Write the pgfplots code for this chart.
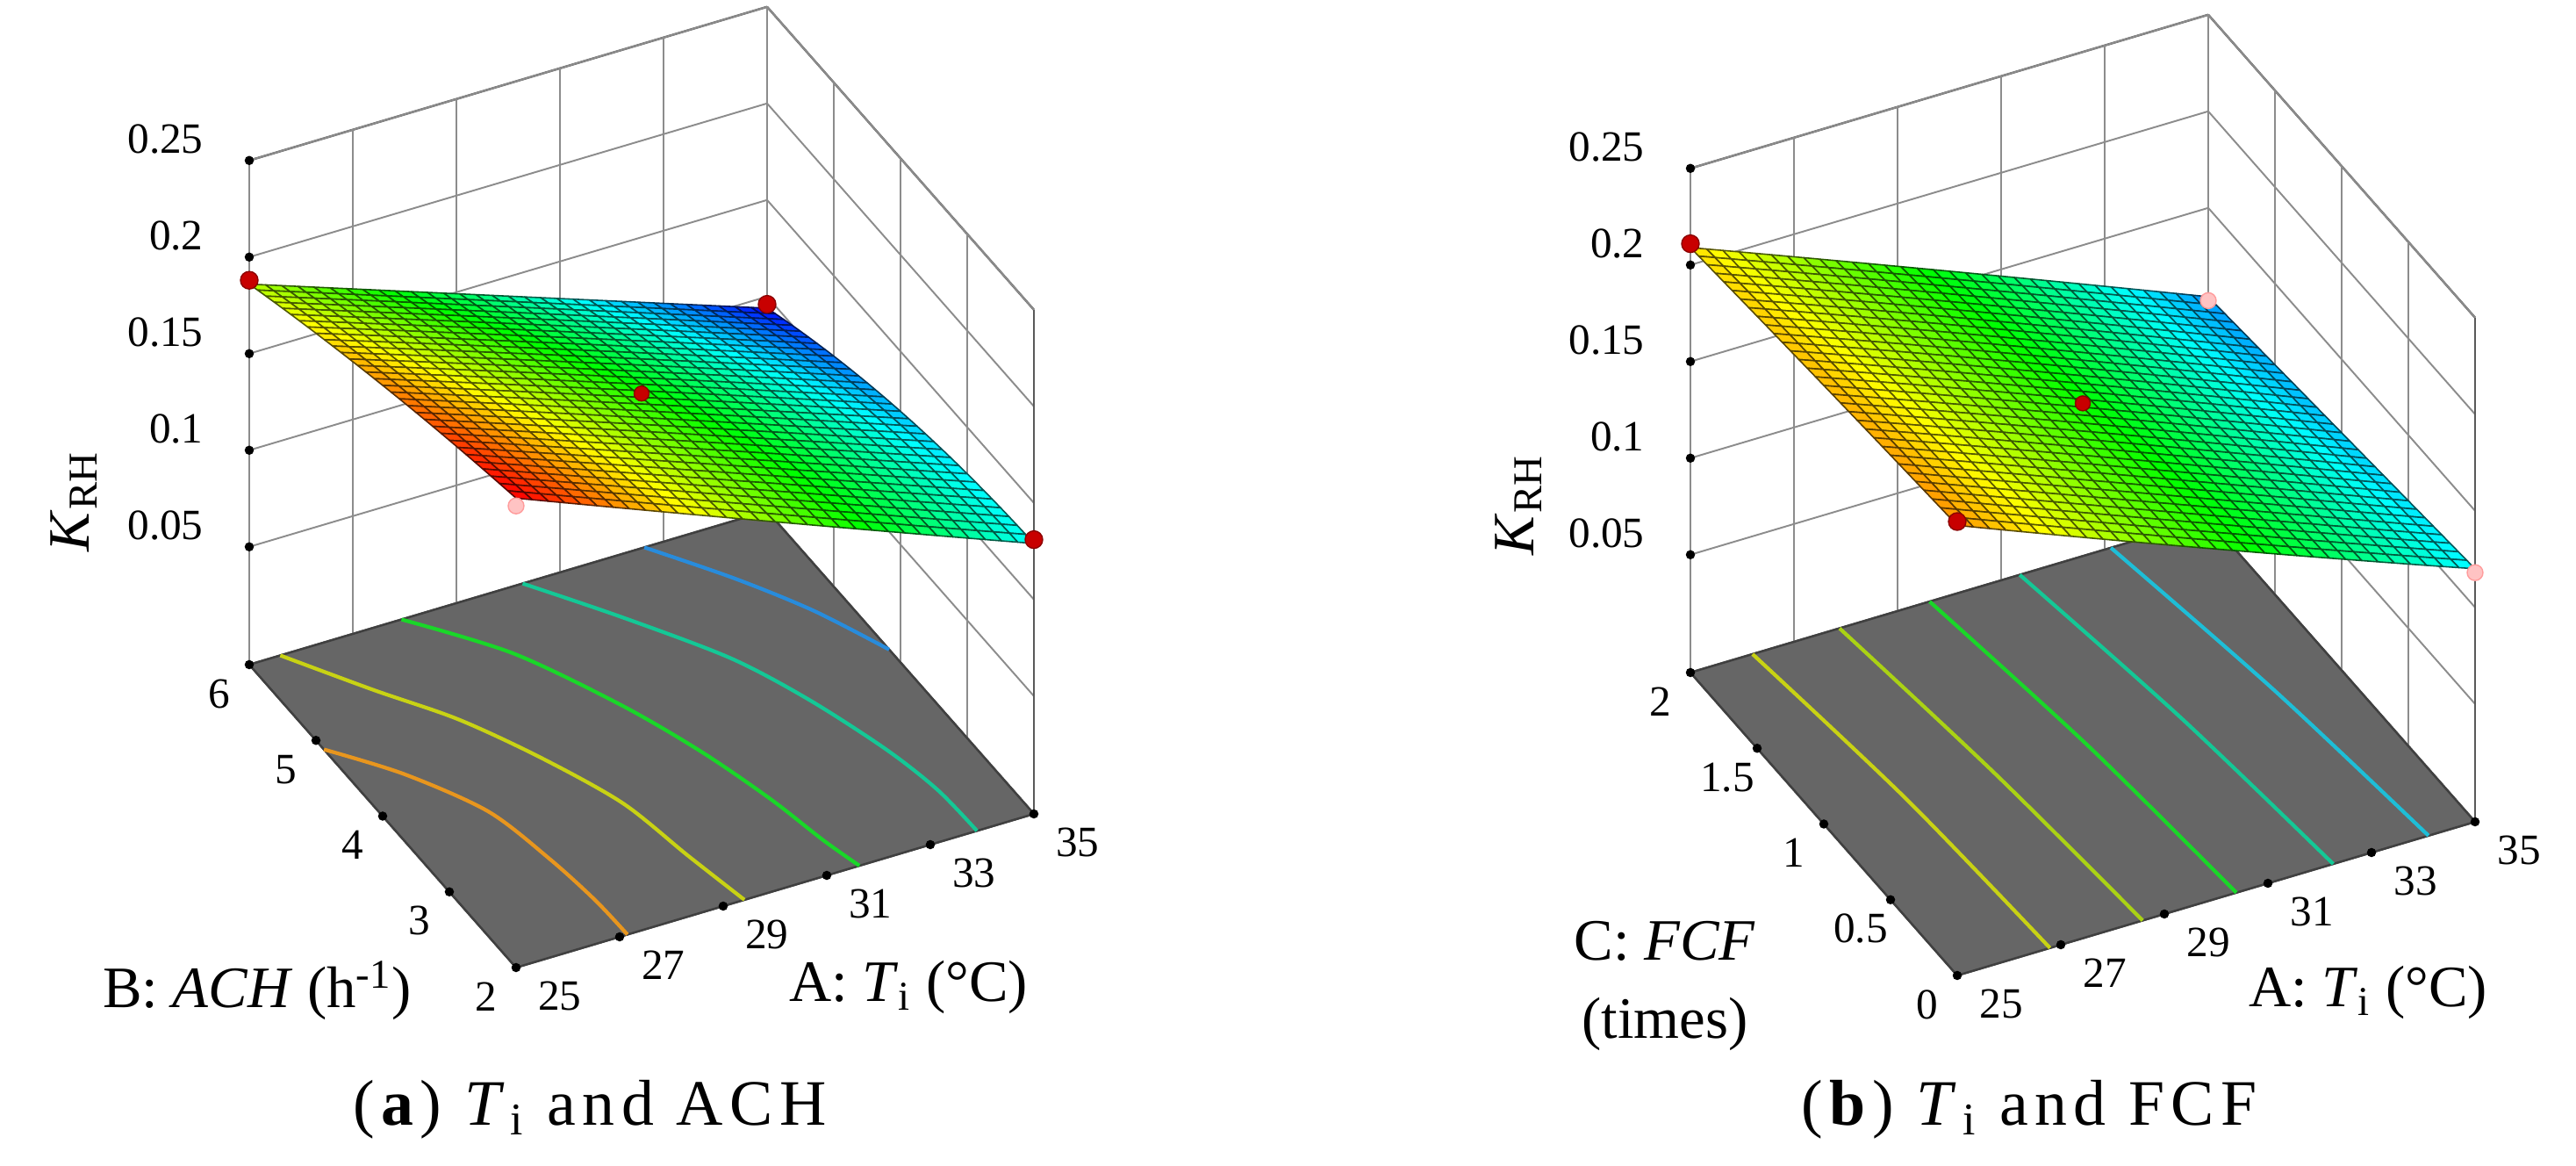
\documentclass[border=0pt]{standalone}
\usepackage{fontspec}
\setmainfont{Liberation Serif}
\newfontfamily\capfont[LetterSpace=10]{Liberation Serif}
\usepackage{pgfplots}
\pgfplotsset{compat=1.18}
\usepgfplotslibrary{patchplots}
\usetikzlibrary{calc}
\definecolor{floorgray}{RGB}{102,102,102}
\definecolor{cOrange}{RGB}{232,150,30}
\definecolor{cYellow}{RGB}{200,210,20}
\definecolor{cYG}{RGB}{170,210,20}
\definecolor{cGreen}{RGB}{25,215,40}
\definecolor{cTeal}{RGB}{20,200,150}
\definecolor{cCyan}{RGB}{30,190,215}
\definecolor{cBlue}{RGB}{40,140,220}
\definecolor{ptred}{RGB}{200,0,0}
\definecolor{ptpink}{RGB}{255,195,195}
\pgfplotsset{
  rsaxis/.style={
    x={(0.590cm,0.175cm)},
    z={(0cm,22cm)},
    xmin=25, xmax=35, zmin=-0.011, zmax=0.25,
    enlargelimits=false,
    xtick={25,27,29,31,33,35},
    ztick={0.05,0.1,0.15,0.2,0.25},
    zticklabels={0.05,0.1,0.15,0.2,0.25},
    /pgf/number format/assume math mode=true,
    grid=major,
    grid style={black!45, line width=0.55pt},
    axis line style={black!65, line width=0.7pt},
    major tick length=0pt,
    ticklabel style={font=\fontsize{14}{16}\selectfont},
    xticklabel style={anchor=center, xshift=0.5cm, yshift=-0.32cm},
    yticklabel style={anchor=center, xshift=-0.34cm, yshift=-0.33cm},
    zticklabel style={anchor=east, xshift=-0.40cm, yshift=0.24cm},
    colormap={de}{rgb255=(0,0,255) rgb255=(0,255,255) rgb255=(0,255,0) rgb255=(255,255,0) rgb255=(255,0,0)},
    clip=false,
  },
  surfstyle/.style={
    patch, patch type=biquadratic, patch refines=5,
    shader=faceted, faceted color=mapped color!35!black,
    line width=0.45pt, point meta=z,
  },
  tickdot/.style={only marks, mark=*, mark size=0.045cm, black},
  redpt/.style={only marks, mark=*, mark size=0.1cm,
    mark options={fill=ptred, draw=ptred!70!black, line width=0.4pt}},
  pinkpt/.style={only marks, mark=*, mark size=0.09cm,
    mark options={fill=ptpink, draw=ptpink!80!red, line width=0.4pt}},
  contour/.style={smooth, line width=1.2pt},
}
\begin{document}
\begin{tikzpicture}
% ---------------- panel (a) ----------------
\begin{axis}[rsaxis, name=A1, at={(0,0)}, anchor=south west,
  y={(-0.76cm,0.8625cm)}, ymin=2, ymax=6, ytick={2,3,4,5,6},
  point meta min=0.094, point meta max=0.230]
\coordinate (c1) at (axis cs:30,4,-0.011);
\addplot3[tickdot] coordinates {(25,6,0.05) (25,6,0.1) (25,6,0.15) (25,6,0.2) (25,6,0.25)};
\addplot3[fill=floorgray, draw=black!75, line width=0.7pt] coordinates {
  (25,2,-0.011) (35,2,-0.011) (35,6,-0.011) (25,6,-0.011) (25,2,-0.011)};
\addplot3[tickdot] coordinates {
  (25,2,-0.011) (27,2,-0.011) (29,2,-0.011) (31,2,-0.011) (33,2,-0.011) (35,2,-0.011)
  (25,3,-0.011) (25,4,-0.011) (25,5,-0.011) (25,6,-0.011)};
\addplot3[contour, cOrange] coordinates {
  (25,4.88,-0.011) (25.9,4.37,-0.011) (26.68,3.72,-0.011) (26.98,3.03,-0.011) (27.12,2.46,-0.011) (27.15,2,-0.011)};
\addplot3[contour, cYellow] coordinates {
  (25.6,6,-0.011) (26.56,5.35,-0.011) (27.46,4.78,-0.011) (28.21,4.12,-0.011) (28.85,3.39,-0.011) (29.14,2.64,-0.011) (29.41,2,-0.011)};
\addplot3[contour, cGreen] coordinates {
  (27.94,6,-0.011) (29.19,5.30,-0.011) (30.15,4.42,-0.011) (30.75,3.68,-0.011) (31.17,2.97,-0.011) (31.42,2.38,-0.011) (31.63,2,-0.011)};
\addplot3[contour, cTeal] coordinates {
  (30.28,6,-0.011) (31.36,5.33,-0.011) (32.46,4.57,-0.011) (33.1,3.89,-0.011) (33.61,3.13,-0.011) (33.85,2.55,-0.011) (33.9,2,-0.011)};
\addplot3[contour, cBlue] coordinates {
  (32.63,6,-0.011) (33.6,5.39,-0.011) (34.37,4.81,-0.011) (35,4.17,-0.011)};
\addplot3[pinkpt] coordinates {(25,2,0.228)};
\addplot3[surfstyle] coordinates {
  (25,2,0.232) (35,2,0.129) (35,6,0.094) (25,6,0.186)
  (30,2,0.180) (35,4,0.119) (30,6,0.140) (25,4,0.212)
  (30,4,0.166)};
\addplot3[redpt] coordinates {(25,6,0.188) (35,6,0.096) (35,2,0.131)};
\addplot3[redpt, mark size=0.085cm] coordinates {(30,4,0.168)};
\end{axis}
% ---------------- panel (b) ----------------
\begin{axis}[rsaxis, name=A2, at={(16.42cm,-0.09cm)}, anchor=south west,
  y={(-1.52cm,1.725cm)}, ymin=0, ymax=2, ytick={0,0.5,1,1.5,2},
  yticklabels={0,0.5,1,1.5,2},
  point meta min=0.080, point meta max=0.245]
\addplot3[tickdot] coordinates {(25,2,0.05) (25,2,0.1) (25,2,0.15) (25,2,0.2) (25,2,0.25)};
\addplot3[fill=floorgray, draw=black!75, line width=0.7pt] coordinates {
  (25,0,-0.011) (35,0,-0.011) (35,2,-0.011) (25,2,-0.011) (25,0,-0.011)};
\addplot3[tickdot] coordinates {
  (25,0,-0.011) (27,0,-0.011) (29,0,-0.011) (31,0,-0.011) (33,0,-0.011) (35,0,-0.011)
  (25,0.5,-0.011) (25,1,-0.011) (25,1.5,-0.011) (25,2,-0.011)};
\addplot3[contour, cYellow] coordinates {(26.2,2,-0.011) (26.6,1,-0.011) (26.79,0,-0.011)};
\addplot3[contour, cYG] coordinates {(27.88,2,-0.011) (28.3,1,-0.011) (28.58,0,-0.011)};
\addplot3[contour, cGreen] coordinates {(29.62,2,-0.011) (30.1,1,-0.011) (30.39,0,-0.011)};
\addplot3[contour, cTeal] coordinates {(31.36,2,-0.011) (31.9,1,-0.011) (32.26,0,-0.011)};
\addplot3[contour, cCyan] coordinates {(33.12,2,-0.011) (33.7,1,-0.011) (34.1,0,-0.011)};
\addplot3[pinkpt] coordinates {(35,2,0.102) (35,0,0.118)};
\addplot3[surfstyle] coordinates {
  (25,0,0.222) (35,0,0.120) (35,2,0.104) (25,2,0.209)
  (30,0,0.170) (35,1,0.112) (30,2,0.157) (25,1,0.216)
  (30,1,0.165)};
\addplot3[redpt] coordinates {(25,2,0.211) (25,0,0.224)};
\addplot3[redpt, mark size=0.085cm] coordinates {(30,1,0.167)};
\end{axis}
% ---------------- labels ----------------
\begin{scope}[every node/.style={font=\fontsize{19}{22}\selectfont, inner sep=0pt}]
\node[rotate=90] at ($(c1)+(-6.47cm,2.71cm)$) {\textit{K}\textsubscript{RH}};
\node at ($(c1)+(-4.38cm,-2.86cm)$) {B: \textit{ACH} (h\textsuperscript{-1})};
\node at ($(c1)+(3.04cm,-2.82cm)$) {A: \textit{T}\textsubscript{i} (°C)};
\node[rotate=90] at ($(c1)+(9.99cm,2.67cm)$) {\textit{K}\textsubscript{RH}};
\node at ($(c1)+(11.66cm,-2.30cm)$) {C: \textit{FCF}};
\node at ($(c1)+(11.66cm,-3.24cm)$) {(times)};
\node at ($(c1)+(19.67cm,-2.88cm)$) {A: \textit{T}\textsubscript{i} (°C)};
\end{scope}
\node[anchor=base, font=\fontsize{21}{24}\selectfont\capfont, inner sep=0pt] at ($(c1)+(-0.59cm,-4.40cm)$) {(\textbf{a}) \textit{T}\textsubscript{i} and ACH};
\node[anchor=base, font=\fontsize{21}{24}\selectfont\capfont, inner sep=0pt] at ($(c1)+(15.81cm,-4.40cm)$) {(\textbf{b}) \textit{T}\textsubscript{i} and FCF};
\pgfresetboundingbox
\path[use as bounding box] ($(c1)+(-7.31cm,8.42cm)$) rectangle ($(c1)+(22.04cm,-4.86cm)$);
\end{tikzpicture}
\end{document}
